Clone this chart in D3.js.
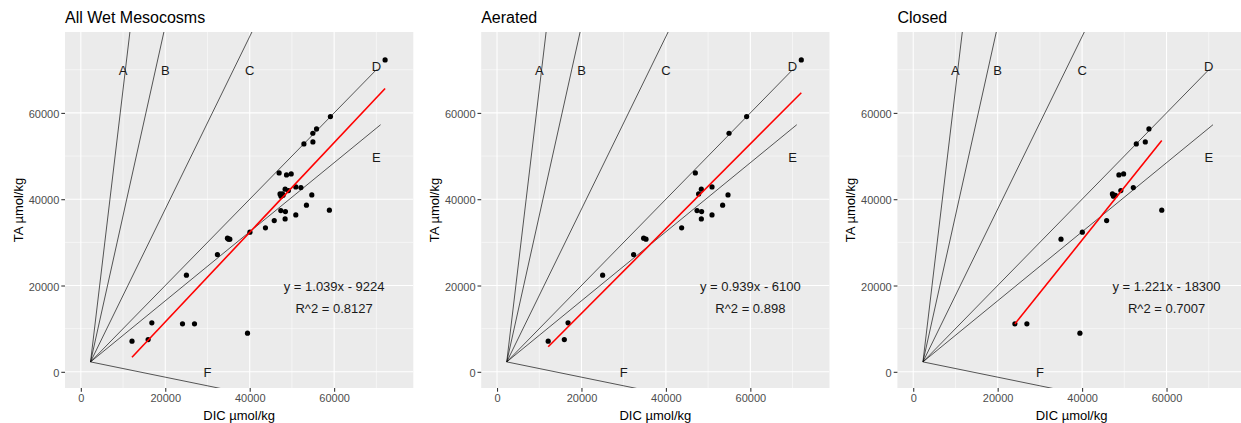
<!DOCTYPE html>
<html>
<head>
<meta charset="utf-8">
<script src="https://cdn.jsdelivr.net/npm/d3@7"></script>
<style>
  body { margin: 0; background: #fff; }
  svg { display: block; font-family: "Liberation Sans", Arial, sans-serif; }
</style>
</head>
<body>
<svg id="chart" width="1241" height="423"></svg>
<script>
(function (window) {
  'use strict';

  // measured points, aerated mesocosms
  var aeratedDIC = [72070, 59120, 54950, 46970, 48390, 47750, 50920, 54710, 53440, 47370, 48460,
    48390, 50920, 43730, 34730, 35290, 32350, 25010, 12120, 15940, 16820];
  var aeratedTA = [72270, 59140, 55290, 46100, 42320, 41230, 42850, 41000, 38610, 37360, 37130,
    35440, 36370, 33360, 30970, 30740, 27170, 22400, 7110, 7480, 11350];

  // measured points, closed mesocosms
  var closedDIC = [55830, 52840, 54970, 48720, 49830, 52130, 49170, 47180, 47420, 47900, 58870,
    45810, 40050, 35000, 24080, 26920, 39480];
  var closedTA = [56290, 52810, 53280, 45630, 45870, 42700, 42000, 41230, 40700, 40900, 37450,
    35050, 32360, 30740, 11120, 11120, 8960];

  var panelTitles = ['All Wet Mesocosms', 'Aerated', 'Closed'];
  // slopes as drawn in the figure (the aerated label reads 0.939 but the line is steeper)
  var fitSlopes = [1.039, 0.982, 1.221];
  var fitIntercepts = [-9224, -6100, -18300];
  var fitEquations = ['y = 1.039x - 9224', 'y = 0.939x - 6100', 'y = 1.221x - 18300'];
  var fitR2 = ['R^2 = 0.8127', 'R^2 = 0.898', 'R^2 = 0.7007'];

  // process lines A-F drawn from a common starting point
  var refOrigin = [2300, 2300];
  var refNames = ['A', 'B', 'C', 'D', 'E', 'F'];
  var refSlopes = [8.2, 4.4, 2.0, 1.0, 0.8, -0.2];
  var refEndDIC = [12000, 20000, 42000, 70000, 71000, 35000];
  var refLabelDIC = [10000, 20000, 40000, 70000, 70000, 30000];
  var refLabelTA = [70000, 70000, 70000, 71000, 50000, 0];

  var majorTicks = [0, 20000, 40000, 60000];
  var minorTicks = [10000, 30000, 50000, 70000];
  var axisLimits = [0, 75000];

  var panels = [
    { dic: aeratedDIC.concat(closedDIC), ta: aeratedTA.concat(closedTA) },
    { dic: aeratedDIC, ta: aeratedTA },
    { dic: closedDIC, ta: closedTA }
  ];

  var svg = d3.select('#chart');
  var plotTop = 32, plotBottom = 388, plotWidth = 348.3, panelStep = 416.2, firstLeft = 65;

  panels.forEach(function (p, i) {
    drawPanel(i, firstLeft + i * panelStep, p.dic, p.ta);
  });

  function drawPanel(i, left, dic, ta) {
    var pad = (axisLimits[1] - axisLimits[0]) * 0.05;
    var x = d3.scaleLinear().domain([axisLimits[0] - pad, axisLimits[1] + pad]).range([left, left + plotWidth]);
    var y = d3.scaleLinear().domain([axisLimits[0] - pad, axisLimits[1] + pad]).range([plotBottom, plotTop]);
    var g = svg.append('g');

    var clipId = 'clip' + i;
    svg.append('clipPath').attr('id', clipId).append('rect')
      .attr('x', left).attr('y', plotTop).attr('width', plotWidth).attr('height', plotBottom - plotTop);

    g.append('rect')
      .attr('x', left).attr('y', plotTop).attr('width', plotWidth).attr('height', plotBottom - plotTop)
      .attr('fill', '#EBEBEB');

    // grid
    var grid = g.append('g').attr('clip-path', 'url(#' + clipId + ')');
    minorTicks.forEach(function (t) {
      grid.append('line').attr('x1', x(t)).attr('x2', x(t)).attr('y1', plotTop).attr('y2', plotBottom)
        .attr('stroke', '#fff').attr('stroke-width', 0.53);
      grid.append('line').attr('x1', left).attr('x2', left + plotWidth).attr('y1', y(t)).attr('y2', y(t))
        .attr('stroke', '#fff').attr('stroke-width', 0.53);
    });
    majorTicks.forEach(function (t) {
      grid.append('line').attr('x1', x(t)).attr('x2', x(t)).attr('y1', plotTop).attr('y2', plotBottom)
        .attr('stroke', '#fff').attr('stroke-width', 1.07);
      grid.append('line').attr('x1', left).attr('x2', left + plotWidth).attr('y1', y(t)).attr('y2', y(t))
        .attr('stroke', '#fff').attr('stroke-width', 1.07);
    });

    var body = g.append('g').attr('clip-path', 'url(#' + clipId + ')');

    // reference lines
    refNames.forEach(function (name, k) {
      var endTA = refOrigin[1] + refSlopes[k] * (refEndDIC[k] - refOrigin[0]);
      body.append('line')
        .attr('x1', x(refOrigin[0])).attr('y1', y(refOrigin[1]))
        .attr('x2', x(refEndDIC[k])).attr('y2', y(endTA))
        .attr('stroke', '#000').attr('stroke-width', 0.65);
    });

    // points
    body.selectAll('circle.pt').data(d3.range(dic.length)).enter().append('circle')
      .attr('class', 'pt')
      .attr('cx', function (j) { return x(dic[j]); })
      .attr('cy', function (j) { return y(ta[j]); })
      .attr('r', 2.6)
      .attr('fill', '#000');

    // fitted line over the data range
    var ext = d3.extent(dic);
    var fit = d3.line()
      .x(function (v) { return x(v); })
      .y(function (v) { return y(fitSlopes[i] * v + fitIntercepts[i]); });
    body.append('path').datum(ext).attr('d', fit)
      .attr('fill', 'none').attr('stroke', '#FF0000').attr('stroke-width', 1.6);

    // letters
    refNames.forEach(function (name, k) {
      body.append('text')
        .attr('x', x(refLabelDIC[k])).attr('y', y(refLabelTA[k])).attr('dy', '0.42em')
        .attr('text-anchor', 'middle').attr('font-size', 13).attr('fill', '#1a1a1a')
        .text(name);
    });

    body.append('text')
      .attr('x', x(60000)).attr('y', y(20000)).attr('dy', '0.42em')
      .attr('text-anchor', 'middle').attr('font-size', 13).attr('fill', '#1a1a1a')
      .text(fitEquations[i]);
    body.append('text')
      .attr('x', x(60000)).attr('y', y(15000)).attr('dy', '0.42em')
      .attr('text-anchor', 'middle').attr('font-size', 13).attr('fill', '#1a1a1a')
      .text(fitR2[i]);

    // axes
    var xAxis = d3.axisBottom(x).tickValues(majorTicks).tickSize(3.7).tickPadding(2.5).tickFormat(d3.format('d'));
    var yAxis = d3.axisLeft(y).tickValues(majorTicks).tickSize(3.7).tickPadding(2).tickFormat(d3.format('d'));

    var gx = g.append('g').attr('transform', 'translate(0,' + plotBottom + ')').call(xAxis);
    var gy = g.append('g').attr('transform', 'translate(' + left + ',0)').call(yAxis);
    [gx, gy].forEach(function (a) {
      a.select('.domain').remove();
      a.selectAll('.tick line').attr('stroke', '#333333').attr('stroke-width', 1.07);
      a.selectAll('.tick text').attr('fill', '#4D4D4D').attr('font-size', 11)
        .attr('font-family', '"Liberation Sans", Arial, sans-serif');
    });
    gy.selectAll('.tick text').attr('dy', '0.42em');

    g.append('text')
      .attr('x', left + plotWidth / 2).attr('y', 420)
      .attr('text-anchor', 'middle').attr('font-size', 13).attr('fill', '#000')
      .text('DIC µmol/kg');
    g.append('text')
      .attr('transform', 'translate(' + (left - 42.3) + ',' + ((plotTop + plotBottom) / 2) + ') rotate(-90)')
      .attr('text-anchor', 'middle').attr('font-size', 13).attr('fill', '#000')
      .text('TA µmol/kg');
    g.append('text')
      .attr('x', left).attr('y', 23.3)
      .attr('font-size', 16).attr('fill', '#000')
      .text(panelTitles[i]);
  }
})(window);
</script>
</body>
</html>
